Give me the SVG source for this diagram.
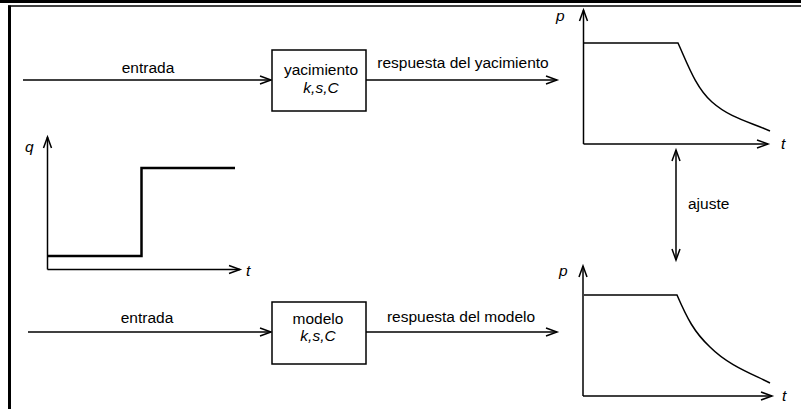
<svg xmlns="http://www.w3.org/2000/svg" width="801" height="409" viewBox="0 0 801 409">
<style>
.ln{fill:none;stroke:#000;stroke-width:1.5}
.ah{fill:none;stroke:#000;stroke-width:1.5;stroke-linejoin:miter}
.bx{fill:#fff;stroke:#000;stroke-width:1.5}
.tx{font-family:"Liberation Sans",Arial,sans-serif;font-size:15.5px;fill:#000}
.it{font-family:"Liberation Sans",Arial,sans-serif;font-size:15.5px;font-style:italic;fill:#000}
</style>
<rect x="0" y="0" width="801" height="409" fill="#fff"/>
<g id="frame">
<rect x="0" y="0" width="801" height="3" fill="#000"/>
<line x1="8" y1="6" x2="801" y2="6" stroke="#000" stroke-width="1.5"/>
<line x1="9.5" y1="5.5" x2="9.5" y2="409" stroke="#000" stroke-width="3"/>
</g>
<g id="connectors">
<line class="ln" x1="23" y1="80" x2="271" y2="80"/>
<polyline class="ah" points="260,76 271,80 260,84"/>
<line class="ln" x1="366" y1="80" x2="557" y2="80"/>
<polyline class="ah" points="546,76 557,80 546,84"/>
<line class="ln" x1="28" y1="332" x2="271" y2="332"/>
<polyline class="ah" points="260,328 271,332 260,336"/>
<line class="ln" x1="366" y1="332" x2="557" y2="332" stroke-width="2"/>
<polyline class="ah" points="546,328 557,332 546,336"/>
<line class="ln" x1="676" y1="150" x2="676" y2="260"/>
<polyline class="ah" points="672,161 676,150 680,161"/>
<polyline class="ah" points="672,249 676,260 680,249"/>
<text class="tx" x="688" y="209">ajuste</text>
<text class="tx" x="148" y="73" text-anchor="middle">entrada</text>
<text class="tx" x="463" y="68" text-anchor="middle">respuesta del yacimiento</text>
<text class="tx" x="147" y="323" text-anchor="middle">entrada</text>
<text class="tx" x="461" y="322" text-anchor="middle">respuesta del modelo</text>
</g>
<g id="yacimiento">
<rect class="bx" x="272" y="50" width="94" height="61"/>
<text class="tx" x="321" y="75" text-anchor="middle">yacimiento</text>
<text class="it" x="321" y="93" text-anchor="middle">k,s,C</text>
</g>
<g id="modelo">
<rect class="bx" x="272" y="302" width="94" height="62"/>
<text class="tx" x="318" y="324" text-anchor="middle">modelo</text>
<text class="it" x="318" y="341" text-anchor="middle">k,s,C</text>
</g>
<g id="plot-q">
<line class="ln" x1="47.5" y1="137" x2="47.5" y2="269.5"/>
<polyline class="ah" points="43.5,148 47.5,137 51.5,148"/>
<line class="ln" x1="47.5" y1="269.5" x2="240" y2="269.5"/>
<polyline class="ah" points="229,265.5 240,269.5 229,273.5"/>
<polyline points="48,256 141.5,256 141.5,168 235,168" fill="none" stroke="#000" stroke-width="2.5"/>
<text class="it" x="25" y="152">q</text>
<text class="it" x="246" y="276">t</text>
</g>
<g id="plot-top">
<line class="ln" x1="583.5" y1="10" x2="583.5" y2="144"/>
<polyline class="ah" points="579.5,21 583.5,10 587.5,21"/>
<line class="ln" x1="583.5" y1="144" x2="768" y2="144"/>
<polyline class="ah" points="757,140 768,144 757,148"/>
<path class="ln" d="M584,43 L678,43 C688,65 696,88 712,102 C730,118 750,122 770,131"/>
<text class="it" x="556" y="21">p</text>
<text class="it" x="781" y="149">t</text>
</g>
<g id="plot-bottom">
<line class="ln" x1="583" y1="266" x2="583" y2="396"/>
<polyline class="ah" points="579,277 583,266 587,277"/>
<line class="ln" x1="583" y1="396" x2="772" y2="396"/>
<polyline class="ah" points="761,392 772,396 761,400"/>
<path class="ln" d="M584,295 L677,295 C687,318 694,332 710,347 C728,365 750,373 770,383"/>
<text class="it" x="559" y="276">p</text>
<text class="it" x="782" y="401">t</text>
</g>
</svg>
